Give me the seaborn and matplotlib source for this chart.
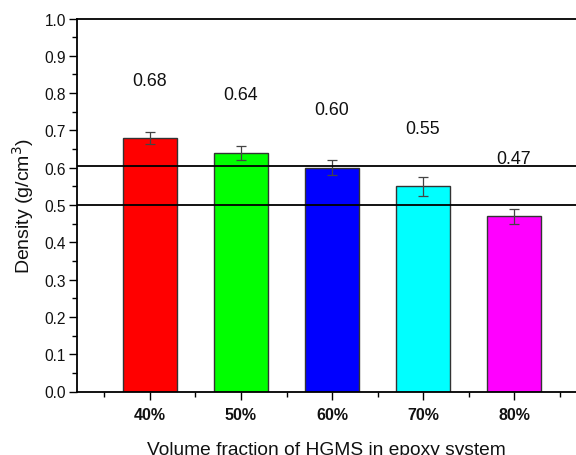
import matplotlib
matplotlib.use("Agg")
import matplotlib.pyplot as plt
from matplotlib.ticker import MultipleLocator, FixedLocator
import seaborn as sns
import pandas as pd

# Measured densities of HGMS/epoxy composites
fractions = ["40%", "50%", "60%", "70%", "80%"]
density = [0.68, 0.64, 0.60, 0.55, 0.47]
density_err = [0.016, 0.019, 0.020, 0.026, 0.020]
bar_colors = ["#ff0000", "#00ff00", "#0000ff", "#00ffff", "#ff00ff"]
reference_levels = [0.605, 0.50]

sns.set_style("white")
plt.rcParams["font.family"] = ["Liberation Sans", "DejaVu Sans"]

df = pd.DataFrame({"fraction": fractions, "density": density})

fig = plt.figure(figsize=(5.76, 4.56), dpi=100)
ax = fig.add_axes([77 / 576, 63.5 / 456, 1 - 77 / 576, 373 / 456])

sns.barplot(data=df, x="fraction", y="density", hue="fraction",
            palette=bar_colors, saturation=1, width=0.6,
            edgecolor="#333333", linewidth=1.0, legend=False, ax=ax,
            zorder=2)

xs = list(range(len(fractions)))
ax.errorbar(xs, density, yerr=density_err, fmt="none", ecolor="#444444",
            elinewidth=0.9, capsize=3.5, capthick=0.9, zorder=3)

for lvl in reference_levels:
    ax.axhline(lvl, color="black", linewidth=1.3, zorder=4)

for x, v in zip(xs, density):
    ax.text(x, v + 0.155, f"{v:.2f}", ha="center", va="center",
            fontsize=12.8, color="#111111")

ax.set_ylim(0, 1.0)
ax.set_xlim(-0.802, 4.681)
ax.yaxis.set_minor_locator(MultipleLocator(0.05))
ax.xaxis.set_minor_locator(FixedLocator([-0.5, 0.5, 1.5, 2.5, 3.5, 4.5]))
ax.set_yticks([i / 10 for i in range(11)])
ax.set_yticklabels([f"{i / 10:.1f}" for i in range(11)])

ax.tick_params(axis="both", which="major", direction="out", length=6,
               width=1.0, color="black", bottom=True, left=True)
ax.tick_params(axis="both", which="minor", direction="out", length=3.5,
               width=1.0, color="black", bottom=True, left=True)
ax.tick_params(axis="y", labelsize=11.2, labelcolor="#111111", pad=2)
ax.tick_params(axis="x", labelsize=11.5, labelcolor="#111111", pad=5)
for lab in ax.get_xticklabels():
    lab.set_fontweight("bold")

for side in ["left", "top", "bottom"]:
    ax.spines[side].set_visible(True)
    ax.spines[side].set_color("black")
    ax.spines[side].set_linewidth(1.3)
ax.spines["right"].set_visible(False)

ax.set_xlabel("Volume fraction of HGMS in epoxy system", fontsize=13.8,
              labelpad=14, color="#111111")
ax.set_ylabel("Density (g/cm$^3$)", fontsize=14, labelpad=6, color="#111111")

fig.savefig("out.png", dpi=100, facecolor="white")
